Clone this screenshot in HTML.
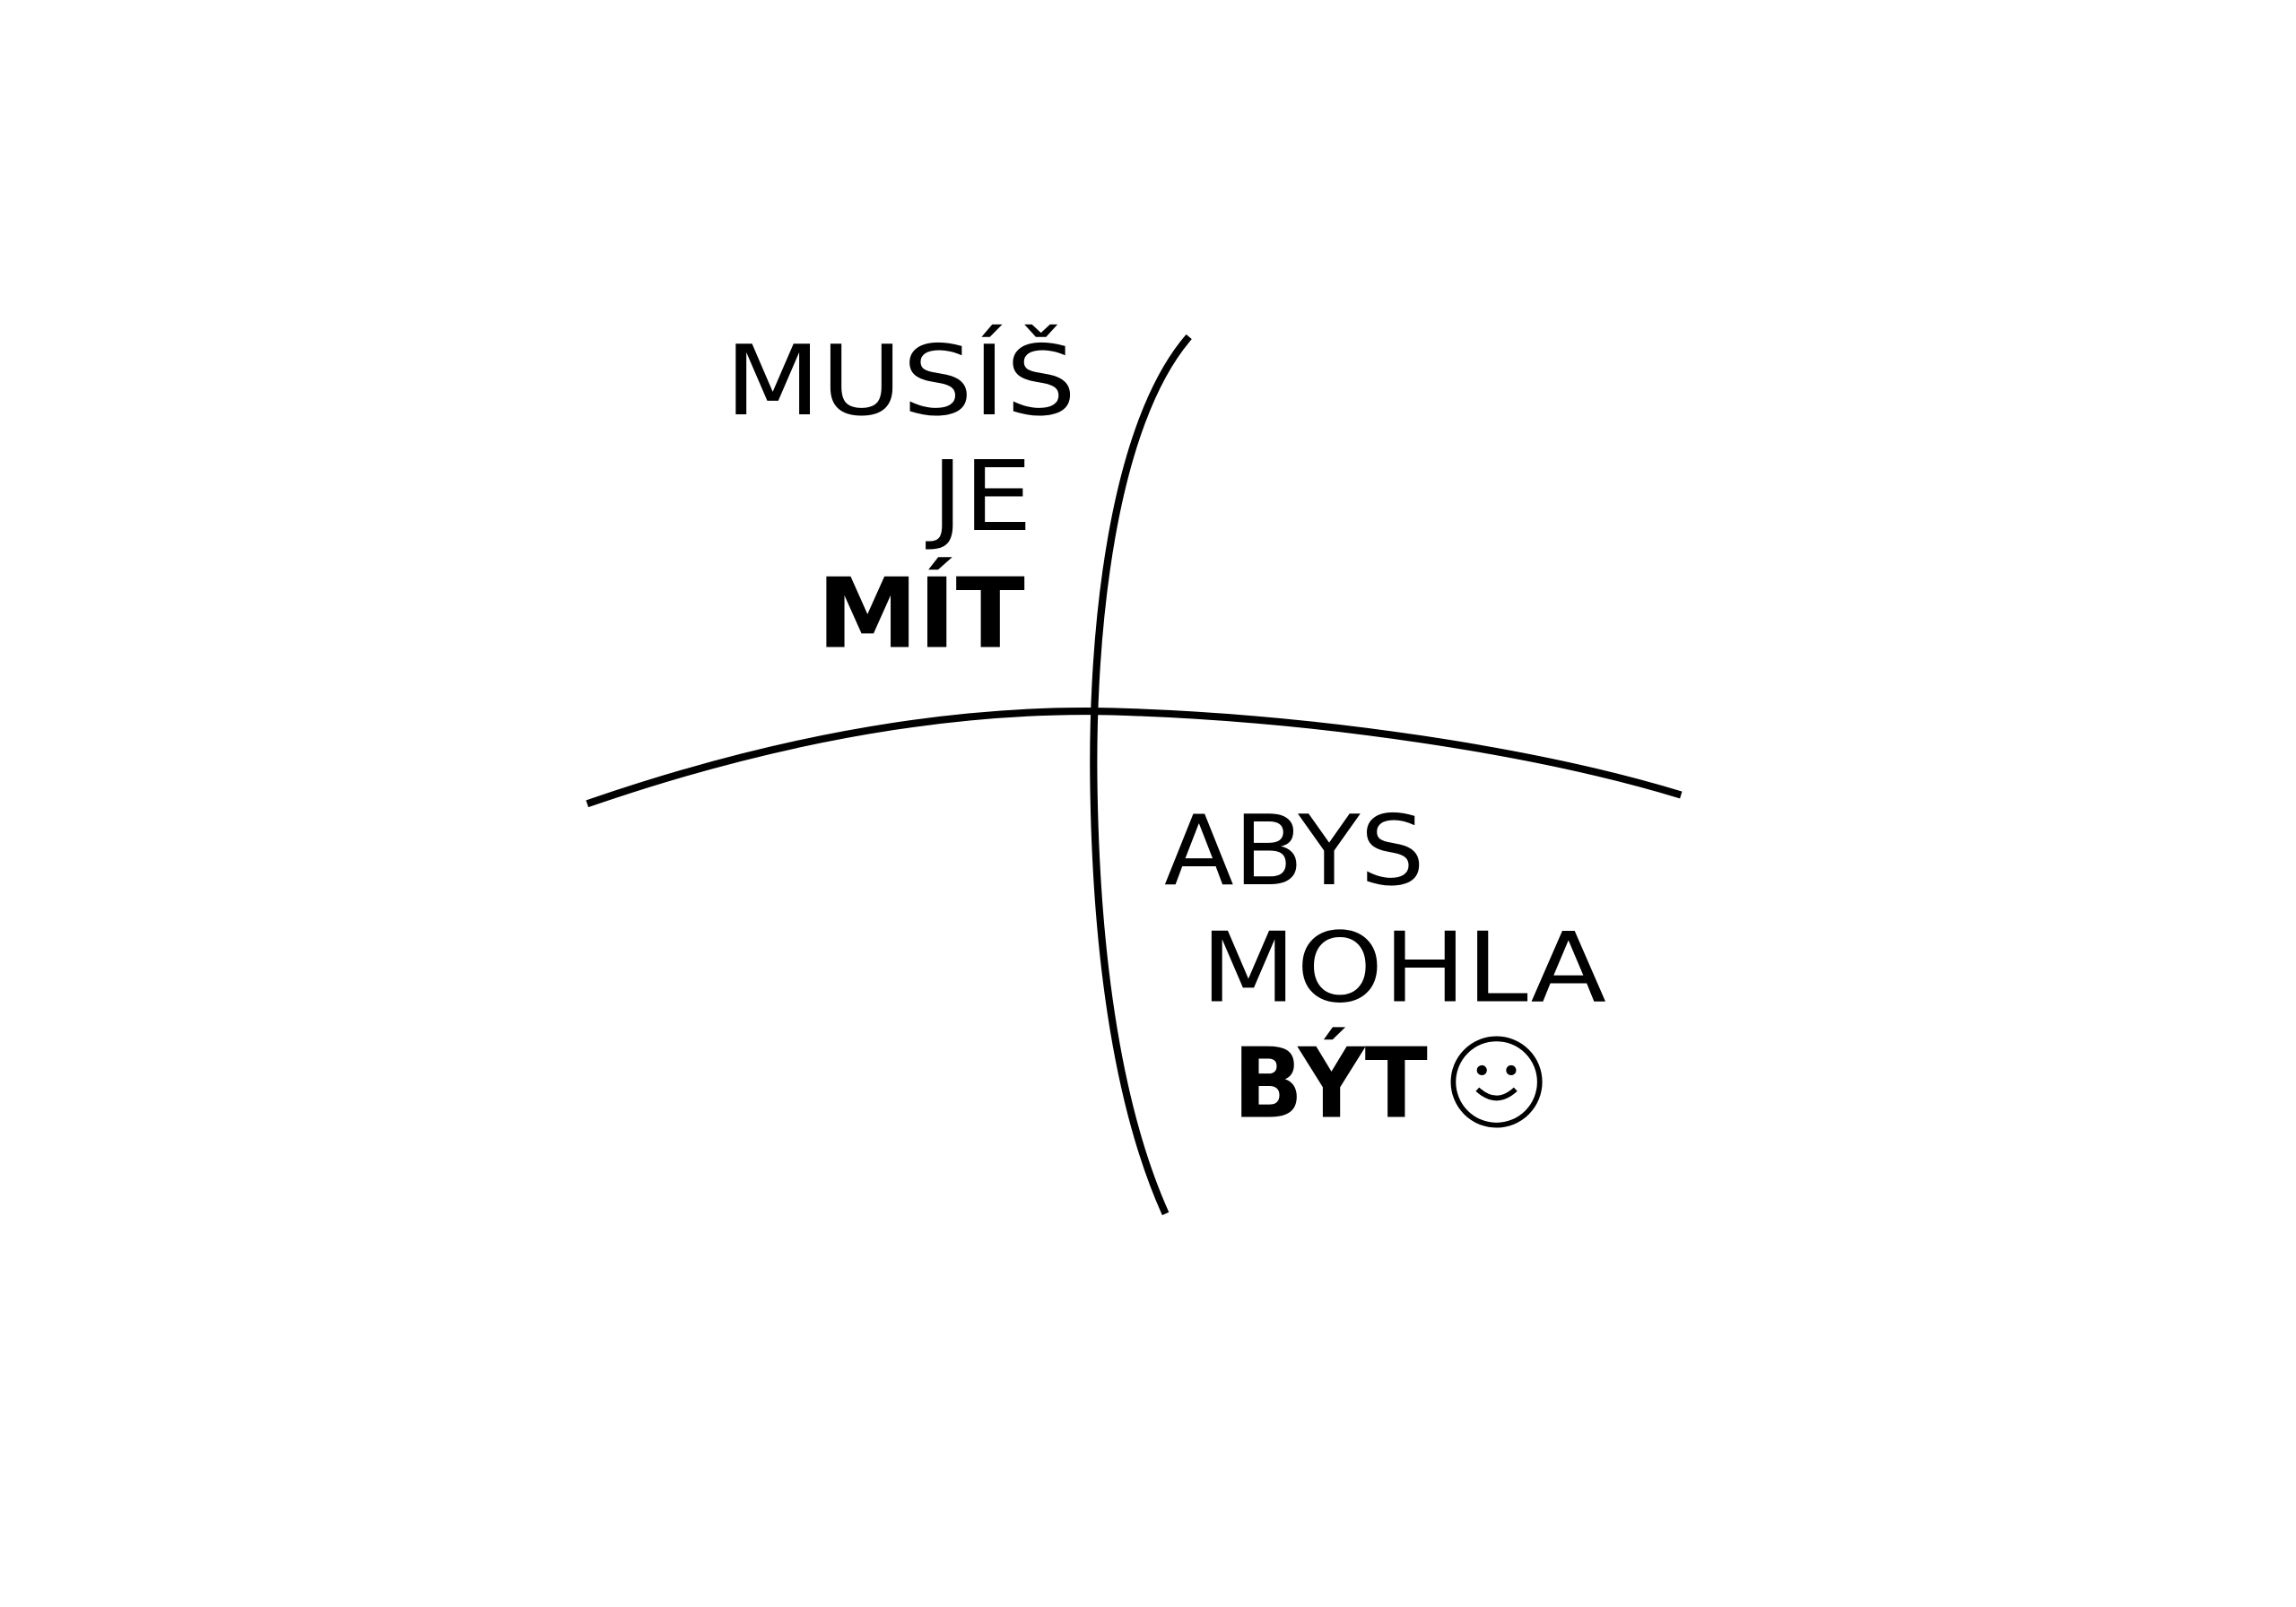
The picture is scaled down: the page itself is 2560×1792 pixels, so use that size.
<!DOCTYPE html>
<html><head><meta charset="utf-8"><style>
html,body{margin:0;padding:0;background:#fff;}
svg{display:block;}
text{font-family:"DejaVu Sans","Liberation Sans",sans-serif;fill:#000;}
</style></head><body>
<svg width="2560" height="1792" viewBox="0 0 1568 1097.6" xmlns="http://www.w3.org/2000/svg">
<rect width="1568" height="1097.6" fill="#fff"/>
<path d="M401,549 C560,494 680,484 760,486 C900,490 1050,513 1148,543" fill="none" stroke="#000" stroke-width="5"/>
<path d="M812,230 C760,290 745,430 747,540 C749,660 765,760 796,829" fill="none" stroke="#000" stroke-width="5"/>
<text x="495" y="283" font-size="66" textLength="240" lengthAdjust="spacingAndGlyphs">MUSÍŠ</text>
<text x="636" y="362" font-size="66" textLength="69" lengthAdjust="spacingAndGlyphs">JE</text>
<text x="558" y="442" font-size="66" font-weight="bold" textLength="142" lengthAdjust="spacingAndGlyphs">MÍT</text>
<text x="795" y="604" font-size="66" textLength="178" lengthAdjust="spacingAndGlyphs">ABYS</text>
<text x="820" y="684" font-size="66" textLength="277" lengthAdjust="spacingAndGlyphs">MOHLA</text>
<text x="842" y="763" font-size="66" font-weight="bold" textLength="133" lengthAdjust="spacingAndGlyphs">BÝT</text>
<circle cx="1022" cy="739" r="29.5" fill="none" stroke="#000" stroke-width="3.5"/>
<circle cx="1012" cy="731" r="3.4"/>
<circle cx="1032" cy="731" r="3.4"/>
<path d="M1009,744 Q1022,756 1035,744" fill="none" stroke="#000" stroke-width="3.5"/>
</svg>
</body></html>
